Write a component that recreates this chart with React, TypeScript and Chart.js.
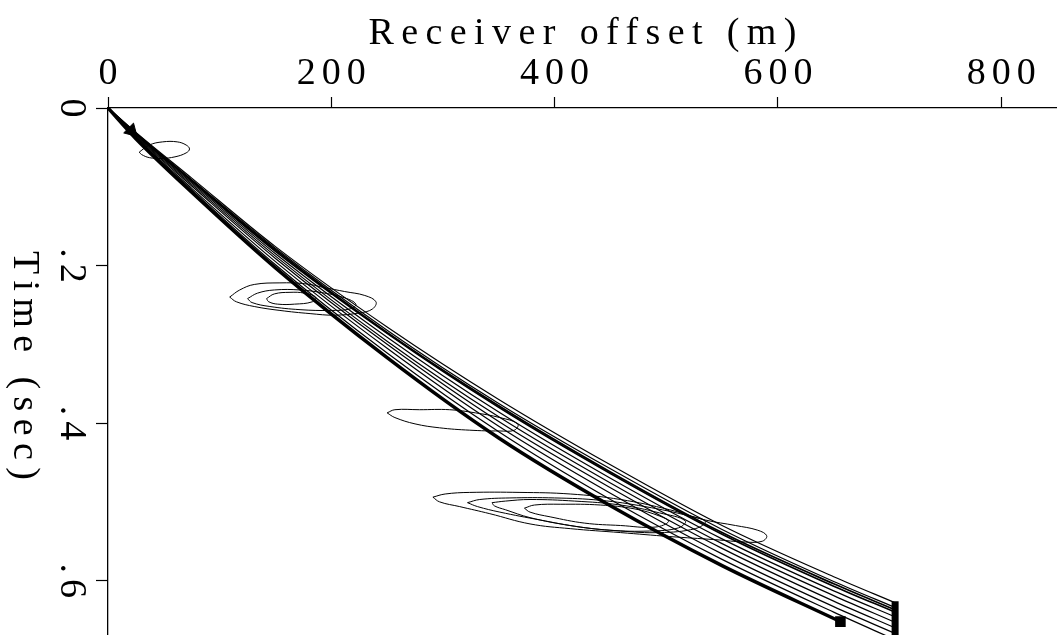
import React, { useEffect, useRef } from 'react';
import { Chart, registerables } from 'chart.js';

Chart.register(...registerables);

// Axis ticks and titles
const offsetTicks = [0, 200, 400, 600, 800];
const timeTicks = [0, 0.2, 0.4, 0.6];
const timeTickLabels = ['0', '.2', '.4', '.6'];
const xTitle = 'Receiver offset (m)';
const yTitle = 'Time (sec)';

// Receiver offsets (m) at which the traveltime curves are sampled
const curveOffsets = [0, 25, 75, 150, 250, 350, 450, 550, 650, 705];
// Traveltimes (s), earliest curve first
const tCurve1 = [0, 0.031, 0.089, 0.176, 0.278, 0.370, 0.453, 0.530, 0.595, 0.628];
const tCurve2 = [0, 0.032, 0.091, 0.178, 0.282, 0.375, 0.458, 0.535, 0.601, 0.634];
const tCurve3 = [0, 0.032, 0.092, 0.180, 0.285, 0.378, 0.462, 0.539, 0.604, 0.637];
const tCurve4 = [0, 0.033, 0.093, 0.182, 0.286, 0.380, 0.464, 0.541, 0.607, 0.640];
const tCurve5 = [0, 0.034, 0.095, 0.185, 0.291, 0.386, 0.470, 0.547, 0.613, 0.646];
const tCurve6 = [0, 0.035, 0.097, 0.188, 0.296, 0.392, 0.476, 0.553, 0.619, 0.653];
const tCurve7 = [0, 0.036, 0.099, 0.191, 0.300, 0.398, 0.482, 0.559, 0.626, 0.660];
const tCurve8 = [0, 0.037, 0.102, 0.195, 0.305, 0.404, 0.489, 0.566, 0.633, 0.667];
const tCurve9 = [0, 0.038, 0.104, 0.199, 0.311, 0.411, 0.497, 0.573, 0.640, 0.675];

// Heavy curve (stops short of the last receiver)
const heavyOffsets = [0, 25, 75, 150, 250, 350, 450, 550, 656];
const heavyTimes = [0, 0.039, 0.107, 0.203, 0.317, 0.419, 0.505, 0.581, 0.652];

// Source arrow and end-of-spread bar
const arrowOffset = [21];
const arrowTime = [0.029];
const barOffsets = [705, 705];
const barTimes = [0.626, 0.72];

// Amplitude contours (closed loops)
const cA_x = [28, 37, 49, 62, 70, 73, 70, 60, 48, 37, 30, 28];
const cA_t = [0.056, 0.047, 0.043, 0.043, 0.047, 0.052, 0.057, 0.062, 0.064, 0.063, 0.059, 0.056];

const cB1_x = [109, 118, 131, 154, 176, 194, 212, 230, 240, 237, 226, 203, 181, 154, 131, 115, 109];
const cB1_t = [0.240, 0.231, 0.224, 0.222, 0.223, 0.228, 0.233, 0.238, 0.246, 0.255, 0.260, 0.263, 0.261, 0.257, 0.252, 0.246, 0.240];
const cB2_x = [125, 134, 149, 172, 194, 212, 222, 217, 199, 172, 145, 129, 125];
const cB2_t = [0.242, 0.235, 0.231, 0.231, 0.235, 0.241, 0.249, 0.255, 0.257, 0.256, 0.252, 0.247, 0.242];
const cB3_x = [142, 149, 163, 176, 186, 183, 167, 152, 144, 142];
const cB3_t = [0.242, 0.236, 0.234, 0.235, 0.240, 0.246, 0.249, 0.249, 0.246, 0.242];

const cC_x = [250, 257, 279, 306, 329, 351, 367, 364, 351, 324, 297, 275, 257, 250];
const cC_t = [0.387, 0.383, 0.383, 0.383, 0.387, 0.393, 0.401, 0.409, 0.410, 0.409, 0.406, 0.401, 0.393, 0.387];

const cD1_x = [291, 302, 324, 369, 414, 459, 503, 535, 562, 582, 590, 586, 571, 544, 503, 459, 414, 378, 342, 315, 297, 291];
const cD1_t = [0.494, 0.490, 0.488, 0.488, 0.490, 0.497, 0.510, 0.523, 0.530, 0.536, 0.543, 0.550, 0.551, 0.548, 0.544, 0.539, 0.534, 0.528, 0.515, 0.506, 0.500, 0.494];
const cD2_x = [322, 333, 360, 400, 441, 481, 521, 535, 526, 494, 459, 423, 387, 351, 331, 322];
const cD2_t = [0.501, 0.497, 0.495, 0.495, 0.498, 0.506, 0.518, 0.525, 0.534, 0.539, 0.537, 0.532, 0.523, 0.513, 0.506, 0.501];
const cD3_x = [344, 356, 378, 418, 459, 494, 517, 511, 485, 450, 414, 378, 356, 346, 344];
const cD3_t = [0.501, 0.499, 0.497, 0.499, 0.504, 0.514, 0.524, 0.533, 0.537, 0.536, 0.530, 0.520, 0.510, 0.505, 0.501];
const cD4_x = [373, 382, 405, 441, 472, 494, 502, 490, 459, 427, 396, 378, 373];
const cD4_t = [0.508, 0.504, 0.503, 0.504, 0.509, 0.518, 0.525, 0.532, 0.530, 0.527, 0.519, 0.513, 0.508];

const FONT = '"Liberation Serif", "Times New Roman", serif';
const TICK_SPACING = 6;
const TITLE_SIZE = 38;
const TITLE_SPACING = 7.4;

const toPoints = (xs: number[], ts: number[]) => xs.map((x, i) => ({ x, y: ts[i] }));

const curve = (ts: number[], width: number) => ({
  data: toPoints(curveOffsets, ts),
  borderColor: '#000',
  borderWidth: width,
  pointRadius: 0,
  pointHoverRadius: 0,
  cubicInterpolationMode: 'monotone' as const,
  fill: false,
});

const contour = (xs: number[], ts: number[]) => ({
  data: toPoints(xs, ts),
  borderColor: '#000',
  borderWidth: 1,
  pointRadius: 0,
  pointHoverRadius: 0,
  tension: 0.4,
  fill: false,
});

const axisText = {
  id: 'axisText',
  beforeDraw(chart: any) {
    // wide spacing for the offset tick labels drawn by the x scale
    chart.ctx.letterSpacing = `${TICK_SPACING}px`;
  },
  afterDraw(chart: any) {
    const ctx = chart.ctx;
    const area = chart.chartArea;
    const yScale = chart.scales.y;
    ctx.save();
    ctx.fillStyle = '#000';
    ctx.textBaseline = 'alphabetic';
    ctx.textAlign = 'center';

    // top axis title
    ctx.font = `${TITLE_SIZE}px ${FONT}`;
    ctx.letterSpacing = `${TITLE_SPACING}px`;
    ctx.fillText(xTitle, (area.left + area.right) / 2 + TITLE_SPACING / 2, 44);

    // time tick labels, turned a quarter clockwise
    ctx.font = `38px ${FONT}`;
    ctx.letterSpacing = `${TICK_SPACING}px`;
    timeTicks.forEach((v, i) => {
      const py = yScale.getPixelForValue(v);
      ctx.save();
      ctx.translate(61, py);
      ctx.rotate(Math.PI / 2);
      ctx.fillText(timeTickLabels[i], TICK_SPACING / 2, 0);
      ctx.restore();
    });

    // time axis title
    ctx.font = `${TITLE_SIZE}px ${FONT}`;
    ctx.letterSpacing = `${TITLE_SPACING}px`;
    ctx.save();
    ctx.translate(14, (area.top + area.bottom) / 2 - 6);
    ctx.rotate(Math.PI / 2);
    ctx.fillText(yTitle, TITLE_SPACING / 2, 0);
    ctx.restore();

    ctx.restore();
    ctx.letterSpacing = '0px';
  },
};

export default function App() {
  const canvasRef = useRef<HTMLCanvasElement | null>(null);

  useEffect(() => {
    const canvas = canvasRef.current;
    if (!canvas) return;

    const datasets: any[] = [
      contour(cA_x, cA_t),
      contour(cB1_x, cB1_t),
      contour(cB2_x, cB2_t),
      contour(cB3_x, cB3_t),
      contour(cC_x, cC_t),
      contour(cD1_x, cD1_t),
      contour(cD2_x, cD2_t),
      contour(cD3_x, cD3_t),
      contour(cD4_x, cD4_t),
      curve(tCurve1, 1.2),
      curve(tCurve2, 1.2),
      curve(tCurve3, 1.7),
      curve(tCurve4, 1.7),
      curve(tCurve5, 1.2),
      curve(tCurve6, 1.2),
      curve(tCurve7, 1.2),
      curve(tCurve8, 1.2),
      curve(tCurve9, 1.2),
      {
        data: toPoints(heavyOffsets, heavyTimes),
        borderColor: '#000',
        borderWidth: 3.5,
        cubicInterpolationMode: 'monotone',
        pointRadius: heavyOffsets.map((_, i) => (i === heavyOffsets.length - 1 ? 5 : 0)),
        pointHoverRadius: 0,
        pointStyle: 'rect',
        pointBackgroundColor: '#000',
        pointBorderColor: '#000',
        fill: false,
      },
      {
        data: toPoints(barOffsets, barTimes),
        borderColor: '#000',
        borderWidth: 7,
        borderCapStyle: 'butt',
        pointRadius: 0,
        pointHoverRadius: 0,
        fill: false,
      },
      {
        data: toPoints(arrowOffset, arrowTime),
        showLine: false,
        pointStyle: 'triangle',
        pointRotation: 135,
        pointRadius: 8,
        pointHoverRadius: 0,
        pointBackgroundColor: '#000',
        pointBorderColor: '#000',
        pointBorderWidth: 1,
      },
    ];

    const chart = new Chart(canvas, {
      type: 'line',
      data: { datasets },
      options: {
        animation: false,
        responsive: false,
        events: [],
        layout: { padding: 0, autoPadding: false },
        plugins: { legend: { display: false }, tooltip: { enabled: false } },
        scales: {
          x: {
            type: 'linear',
            position: 'top',
            min: 0,
            max: 850,
            afterBuildTicks: (s: any) => {
              s.ticks = offsetTicks.map((v) => ({ value: v }));
            },
            afterFit: (s: any) => {
              s.height = 108;
            },
            grid: { drawOnChartArea: false, drawTicks: true, tickLength: 11, tickColor: '#000', tickWidth: 1.2 },
            border: { display: true, color: '#000', width: 1.3 },
            ticks: {
              color: '#000',
              font: { family: FONT, size: 38 },
              padding: 0,
              labelOffset: TICK_SPACING / 2,
              minRotation: 0,
              maxRotation: 0,
              autoSkip: false,
            },
          },
          y: {
            type: 'linear',
            position: 'left',
            reverse: true,
            min: 0,
            max: 0.669,
            afterBuildTicks: (s: any) => {
              s.ticks = timeTicks.map((v) => ({ value: v }));
            },
            afterFit: (s: any) => {
              s.width = 108;
            },
            grid: { drawOnChartArea: false, drawTicks: true, tickLength: 12, tickColor: '#000', tickWidth: 1.2 },
            border: { display: true, color: '#000', width: 1.3 },
            ticks: { display: false, callback: (_v: any, i: number) => timeTickLabels[i] },
          },
        },
      },
      plugins: [axisText],
    } as any);

    return () => chart.destroy();
  }, []);

  return (
    <div style={{ position: 'fixed', left: 0, top: 0, width: 1057, height: 635, background: '#fff' }}>
      <canvas ref={canvasRef} width={1057} height={635} style={{ display: 'block' }} />
    </div>
  );
}
